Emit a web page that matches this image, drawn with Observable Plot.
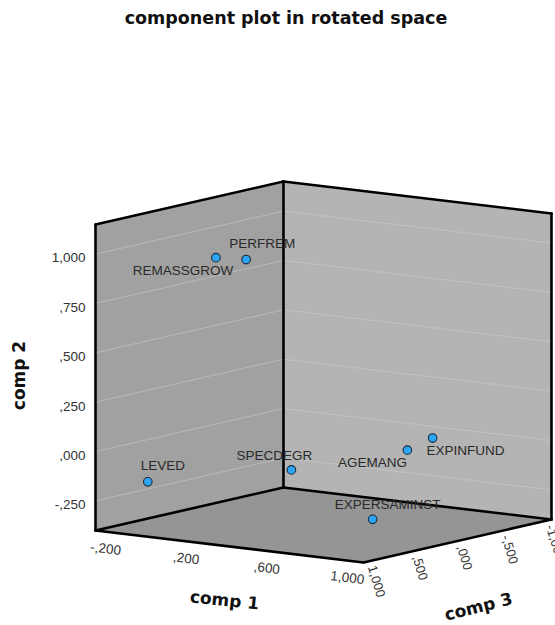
<!DOCTYPE html>
<html><head><meta charset="utf-8">
<script src="https://cdn.jsdelivr.net/npm/d3@7"></script>
<script src="https://cdn.jsdelivr.net/npm/@observablehq/plot@0.6"></script>
<style>body{margin:0;background:#fff}</style>
</head><body><div id="chart"></div>
<script>
// ---- data (component loadings, rotated space) ----
const variables = ["REMASSGROW", "PERFREM", "LEVED", "SPECDEGR", "AGEMANG", "EXPINFUND", "EXPERSAMINST"];
const comp1 = [-0.14, 0.01, -0.08, 0.50, 0.85, 0.90, 0.85];
const comp2 = [0.885, 0.894, -0.15, -0.05, 0.04, 0.09, -0.27];
const comp3 = [0.00, 0.00, 0.90, 0.60, 0.09, -0.08, 0.48];
const comp1Ticks = [-0.2, 0.2, 0.6, 1.0];
const comp2Ticks = [-0.25, 0, 0.25, 0.5, 0.75, 1.0];
const comp3Ticks = [1.0, 0.5, 0, -0.5, -1.0];
const title = "component plot in rotated space";

// ---- axis domains ----
const dom1 = [-0.26, 1.07], dom2 = [-0.40, 1.15], dom3 = [-1.03, 1.08];

// ---- view (screen vectors of the unit box) ----
const view = {origin: [95, 530], e1: [268, 32], e2: [0, -306], e3: [188, -43]};
function proj(a, b, c) {
  const u = (a - dom1[0]) / (dom1[1] - dom1[0]);
  const v = (b - dom2[0]) / (dom2[1] - dom2[0]);
  const w = (dom3[1] - c) / (dom3[1] - dom3[0]);
  return [view.origin[0] + u*view.e1[0] + v*view.e2[0] + w*view.e3[0],
          view.origin[1] + u*view.e1[1] + v*view.e2[1] + w*view.e3[1]];
}
const locale = d3.formatLocale({decimal: ",", thousands: ".", grouping: [3], currency: ["", ""], minus: "-"});
const fmt = d => locale.format(".3f")(d).replace(/^(-?)0,/, "$1,");

const points = variables.map((name, i) => ({name, c1: comp1[i], c2: comp2[i], c3: comp3[i]}));
// label placement relative to dot (screen px)
const labelOffset = {REMASSGROW: [-33, 13], PERFREM: [16, -16], LEVED: [15, -16], SPECDEGR: [-17, -14],
  AGEMANG: [-35, 13], EXPINFUND: [33, 13], EXPERSAMINST: [15, -15]};

const [a0, a1] = dom1, [b0, b1] = dom2, [c0, c1] = dom3;
const face = corners => corners.map(([a, b, c]) => ({a, b, c}));
const leftWall = face([[a0,b0,c1],[a0,b1,c1],[a0,b1,c0],[a0,b0,c0]]);
const rightWall = face([[a0,b0,c0],[a0,b1,c0],[a1,b1,c0],[a1,b0,c0]]);
const floor = face([[a0,b0,c1],[a1,b0,c1],[a1,b0,c0],[a0,b0,c0]]);
const edges = [
  [[a0,b0,c1],[a0,b1,c1]], [[a0,b1,c1],[a0,b1,c0]], [[a0,b0,c0],[a0,b1,c0]],
  [[a0,b1,c0],[a1,b1,c0]], [[a1,b0,c0],[a1,b1,c0]],
  [[a0,b0,c1],[a1,b0,c1]], [[a1,b0,c1],[a1,b0,c0]], [[a0,b0,c1],[a0,b0,c0]], [[a0,b0,c0],[a1,b0,c0]]
].map(([p, q]) => ({p, q}));
const gridLeft = comp2Ticks.map(t => ({p: [a0,t,c1], q: [a0,t,c0]}));
const gridRight = comp2Ticks.map(t => ({p: [a0,t,c0], q: [a1,t,c0]}));

const X = d => proj(d.a, d.b, d.c)[0], Y = d => proj(d.a, d.b, d.c)[1];
const link = (data, opts) => Plot.link(data, {
  x1: d => proj(...d.p)[0], y1: d => proj(...d.p)[1],
  x2: d => proj(...d.q)[0], y2: d => proj(...d.q)[1], ...opts});

const sans = "Liberation Sans, Arial, sans-serif";
const bold = "DejaVu Sans, Verdana, sans-serif";

const chart = Plot.plot({
  width: 555, height: 625, margin: 0,
  x: {domain: [0, 555], range: [0, 555], axis: null},
  y: {domain: [0, 625], range: [0, 625], axis: null},
  style: {background: "#fff"},
  marks: [
    Plot.line(leftWall, {x: X, y: Y, fill: "#a1a1a1", stroke: "none"}),
    Plot.line(rightWall, {x: X, y: Y, fill: "#b4b4b4", stroke: "none"}),
    Plot.line(floor, {x: X, y: Y, fill: "#959595", stroke: "none"}),
    link(gridLeft, {stroke: "#b9b9b9", strokeWidth: 1}),
    link(gridRight, {stroke: "#c3c3c3", strokeWidth: 1}),
    link(edges, {stroke: "#000", strokeWidth: 2.6, strokeLinecap: "round"}),
    // comp 2 ticks
    Plot.text(comp2Ticks, {x: t => proj(a0, t, c1)[0], y: t => proj(a0, t, c1)[1], text: fmt,
      textAnchor: "end", dx: -10, dy: 4, fontSize: 13.5, fill: "#333", fontFamily: sans}),
    // comp 1 ticks
    Plot.text(comp1Ticks, {x: t => proj(t, b0, c1)[0], y: t => proj(t, b0, c1)[1], text: fmt,
      dx: -2, dy: 17, rotate: 7, fontSize: 13.5, fill: "#333", fontFamily: sans}),
    // comp 3 ticks
    Plot.text(comp3Ticks, {x: t => proj(a1, b0, t)[0], y: t => proj(a1, b0, t)[1], text: fmt,
      textAnchor: "start", dx: 1, dy: 5, rotate: 73, fontSize: 13, fill: "#333", fontFamily: sans}),
    // axis titles
    Plot.text(["comp 2"], {x: () => proj(a0, (b0+b1)/2, c1)[0], y: () => proj(a0, (b0+b1)/2, c1)[1],
      dx: -76, dy: -2, rotate: -90, fontSize: 17, fontWeight: "bold", fill: "#111", fontFamily: bold}),
    Plot.text(["comp 1"], {x: () => proj((a0+a1)/2, b0, c1)[0], y: () => proj((a0+a1)/2, b0, c1)[1],
      dx: -5, dy: 54, rotate: 6, fontSize: 17, fontWeight: "bold", fill: "#111", fontFamily: bold}),
    Plot.text(["comp 3"], {x: () => proj(a1, b0, (c0+c1)/2)[0], y: () => proj(a1, b0, (c0+c1)/2)[1],
      dx: 21, dy: 66, rotate: -14, fontSize: 17, fontWeight: "bold", fill: "#111", fontFamily: bold}),
    // points + labels
    Plot.dot(points, {x: d => proj(d.c1, d.c2, d.c3)[0], y: d => proj(d.c1, d.c2, d.c3)[1],
      r: 4.3, fill: "#2ca6f2", stroke: "#1b2a3a", strokeWidth: 1.1}),
    Plot.text(points, {x: d => proj(d.c1, d.c2, d.c3)[0] + labelOffset[d.name][0],
      y: d => proj(d.c1, d.c2, d.c3)[1] + labelOffset[d.name][1], text: "name",
      fontSize: 13.5, fill: "#2a2a2a", fontFamily: sans}),
    // title
    Plot.text([title], {frameAnchor: "top", lineAnchor: "middle", dx: 8, dy: 18, text: d => d,
      fontSize: 17.5, fontWeight: "bold", fill: "#111", fontFamily: bold})
  ]
});
document.getElementById("chart").append(chart);
</script></body></html>
